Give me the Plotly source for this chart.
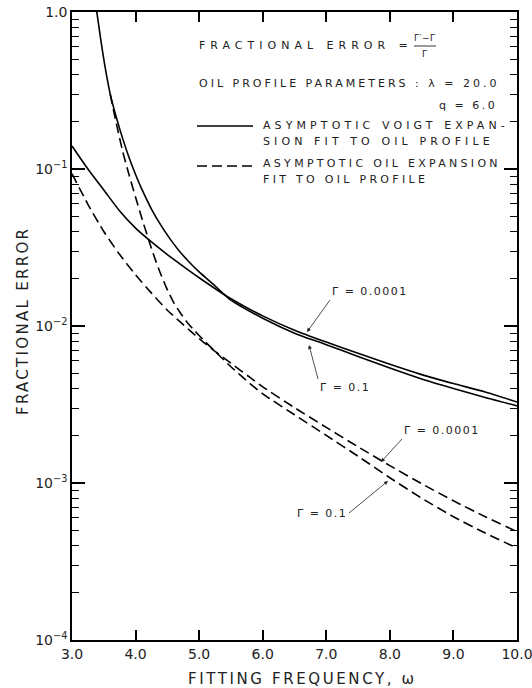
import plotly.graph_objects as go

# ---------------- data ----------------
# Asymptotic Voigt expansion fit, Gamma = 0.0001 (solid, shallow)
omega_voigt_g1e4 = [3.0, 3.25, 3.5, 3.75, 4.0, 4.25, 4.5, 4.75, 5.0, 5.5, 6.0, 6.5,
                    7.0, 7.5, 8.0, 8.5, 9.0, 9.5, 10.0]
err_voigt_g1e4 = [0.140, 0.100, 0.0735, 0.0540, 0.0420, 0.0343, 0.0285, 0.0240, 0.0203,
                  0.0149, 0.0116, 0.0094, 0.0079, 0.0067, 0.0057, 0.0049, 0.0043,
                  0.0038, 0.00328]

# Asymptotic Voigt expansion fit, Gamma = 0.1 (solid, steep)
omega_voigt_g01 = [3.39, 3.45, 3.52, 3.60, 3.70, 3.80, 3.90, 4.00, 4.10, 4.25, 4.40,
                   4.55, 4.70, 4.85, 5.00, 5.25, 5.5, 6.0, 6.5, 7.0, 7.5, 8.0, 8.5,
                   9.0, 9.5, 10.0]
err_voigt_g01 = [1.0, 0.676, 0.447, 0.302, 0.211, 0.155, 0.1175, 0.0923, 0.0741,
                 0.0556, 0.0437, 0.0355, 0.0296, 0.0254, 0.0221, 0.0180, 0.0146,
                 0.0112, 0.0090, 0.0076, 0.0064, 0.0054, 0.0046, 0.0040, 0.0035,
                 0.0031]

# Asymptotic Oil expansion fit, Gamma = 0.0001 (dashed, shallow)
omega_oil_g1e4 = [3.0, 3.25, 3.5, 3.75, 4.0, 4.25, 4.5, 4.75, 5.0, 5.25, 5.5, 5.8,
                  6.0, 6.5, 7.0, 7.5, 8.0, 8.5, 9.0, 9.5, 10.0]
err_oil_g1e4 = [0.0933, 0.0596, 0.0400, 0.0285, 0.0212, 0.0162, 0.0126, 0.0102, 0.0083,
                0.0069, 0.0058, 0.0047, 0.0041, 0.00302, 0.00226, 0.00170, 0.00129,
                0.00099, 0.00077, 0.00061, 0.00049]

# Asymptotic Oil expansion fit, Gamma = 0.1 (dashed, steep)
omega_oil_g01 = [3.60, 3.70, 3.80, 3.90, 4.00, 4.10, 4.20, 4.30, 4.40, 4.50, 4.60,
                 4.70, 4.80, 4.90, 5.00, 5.10, 5.25, 5.5, 5.8, 6.0, 6.5, 7.0, 7.5,
                 8.0, 8.5, 9.0, 9.5, 10.0]
err_oil_g01 = [0.30, 0.193, 0.128, 0.0912, 0.0661, 0.0484, 0.0360, 0.0272, 0.0212,
               0.0170, 0.0141, 0.0122, 0.0107, 0.0096, 0.0087, 0.0079, 0.0069,
               0.0055, 0.0043, 0.0037, 0.00272, 0.00201, 0.00148, 0.00108, 0.00080,
               0.00061, 0.000480, 0.000385]

x_ticks = [3, 4, 5, 6, 7, 8, 9, 10]
x_ticklabels = ["3.0", "4.0", "5.0", "6.0", "7.0", "8.0", "9.0", "10.0"]
y_ticks = [1e-4, 1e-3, 1e-2, 1e-1, 1.0]
y_ticklabels = ["10<sup>−4</sup>", "10<sup>−3</sup>", "10<sup>−2</sup>",
                "10<sup>−1</sup>", "1.0"]

X_RANGE = [3, 10]
Y_LOG_RANGE = [-4, 0]

# ---------------- figure ----------------
W, H = 532, 688
L, R, T, B = 72, 15, 12, 48
PW, PH = W - L - R, H - T - B


def px(x):
    return (x - L) / PW


def py(y):
    return (H - B - y) / PH


INK = "#222222"
FONT = "DejaVu Sans"


def sp(text, s):
    return f'<span style="letter-spacing:{s}px">{text}</span>'


fig = go.Figure()
series = [
    (omega_voigt_g1e4, err_voigt_g1e4, "solid"),
    (omega_voigt_g01, err_voigt_g01, "solid"),
    (omega_oil_g1e4, err_oil_g1e4, "10px,5px"),
    (omega_oil_g01, err_oil_g01, "10px,5px"),
]
for xs, ys, dash in series:
    fig.add_trace(go.Scatter(
        x=xs, y=ys, mode="lines",
        line=dict(color="black", width=1.6, dash=dash, shape="spline", smoothing=0.6),
        showlegend=False, hoverinfo="skip"))

annotations = []


def text(x, y, t, size=11, anchor="left", spacing=3.0, angle=0):
    annotations.append(dict(
        x=px(x), y=py(y), xref="paper", yref="paper", text=sp(t, spacing),
        showarrow=False, xanchor=anchor, yanchor="middle", textangle=angle,
        font=dict(family=FONT, size=size, color=INK)))


def label(t, tail, head, xanchor, yanchor):
    """Curve label whose text box is anchored at the arrow tail."""
    annotations.append(dict(
        x=px(head[0]), y=py(head[1]), xref="paper", yref="paper",
        text=sp(t, 1.5), showarrow=True,
        ax=tail[0] - head[0], ay=tail[1] - head[1], axref="pixel", ayref="pixel",
        xanchor=xanchor, yanchor=yanchor,
        arrowhead=2, arrowsize=1.0, arrowwidth=0.8, arrowcolor=INK,
        standoff=0, startstandoff=0,
        font=dict(family=FONT, size=11, color=INK)))


# info block
text(197, 46, "FRACTIONAL ERROR =", size=11, spacing=5.0)
text(425, 38, "Γ′−Γ", size=9, anchor="center", spacing=0.5)
text(425, 54, "Γ", size=9, anchor="center", spacing=0.5)
text(197, 83, "OIL PROFILE PARAMETERS : λ = 20.0", size=11, spacing=3.0)
text(499, 106, "q = 6.0", size=11, anchor="right", spacing=2.5)
text(261, 125, "ASYMPTOTIC VOIGT EXPAN-", size=11, spacing=4.1)
text(261, 141, "SION FIT TO OIL PROFILE", size=11, spacing=4.1)
text(261, 163, "ASYMPTOTIC OIL EXPANSION", size=11, spacing=3.3)
text(261, 179, "FIT TO OIL PROFILE", size=11, spacing=3.3)

# curve labels with arrows
label("Γ = 0.0001", (330, 300), (307, 332), "left", "bottom")
label("Γ = 0.1", (318, 379), (309, 345), "left", "top")
label("Γ = 0.0001", (402, 439), (381, 462), "left", "bottom")
label("Γ = 0.1", (349, 513), (388, 481), "right", "middle")

# axis titles
text(302, 679, "FITTING FREQUENCY, ω", size=15, anchor="center", spacing=2.6)
annotations.append(dict(
    x=px(23), y=py(321), xref="paper", yref="paper",
    text=sp("FRACTIONAL ERROR", 2.3), showarrow=False, textangle=-90,
    xanchor="center", yanchor="middle",
    font=dict(family=FONT, size=15, color=INK)))

shapes = [
    dict(type="line", xref="paper", yref="paper", x0=px(197), x1=px(253),
         y0=py(126), y1=py(126), line=dict(color="black", width=1.6)),
    dict(type="line", xref="paper", yref="paper", x0=px(197), x1=px(253),
         y0=py(166), y1=py(166), line=dict(color="black", width=1.6, dash="10px,5px")),
    dict(type="line", xref="paper", yref="paper", x0=px(414), x1=px(436),
         y0=py(46), y1=py(46), line=dict(color=INK, width=0.9)),
]

fig.update_layout(
    width=W, height=H,
    margin=dict(l=L, r=R, t=T, b=B, autoexpand=False),
    paper_bgcolor="white", plot_bgcolor="white",
    showlegend=False,
    annotations=annotations,
    shapes=shapes,
    font=dict(family=FONT, color=INK),
    xaxis=dict(
        range=X_RANGE, tickvals=x_ticks, ticktext=x_ticklabels,
        showgrid=False, zeroline=False, automargin=False,
        showline=True, linecolor="black", linewidth=1.5, mirror="allticks",
        ticks="inside", ticklen=10, tickwidth=1.5, tickcolor="black",
        ticklabeloverflow="allow",
        tickfont=dict(family=FONT, size=14, color=INK),
    ),
    yaxis=dict(
        type="log", range=Y_LOG_RANGE, tickvals=y_ticks, ticktext=y_ticklabels,
        showgrid=False, zeroline=False, automargin=False,
        showline=True, linecolor="black", linewidth=1.5, mirror="allticks",
        ticks="inside", ticklen=13, tickwidth=1.5, tickcolor="black",
        tickfont=dict(family=FONT, size=14, color=INK),
        minor=dict(dtick="D1", ticks="inside", ticklen=7, tickwidth=1.2,
                   tickcolor="black", showgrid=False),
    ),
)

fig.write_html("out.html")
